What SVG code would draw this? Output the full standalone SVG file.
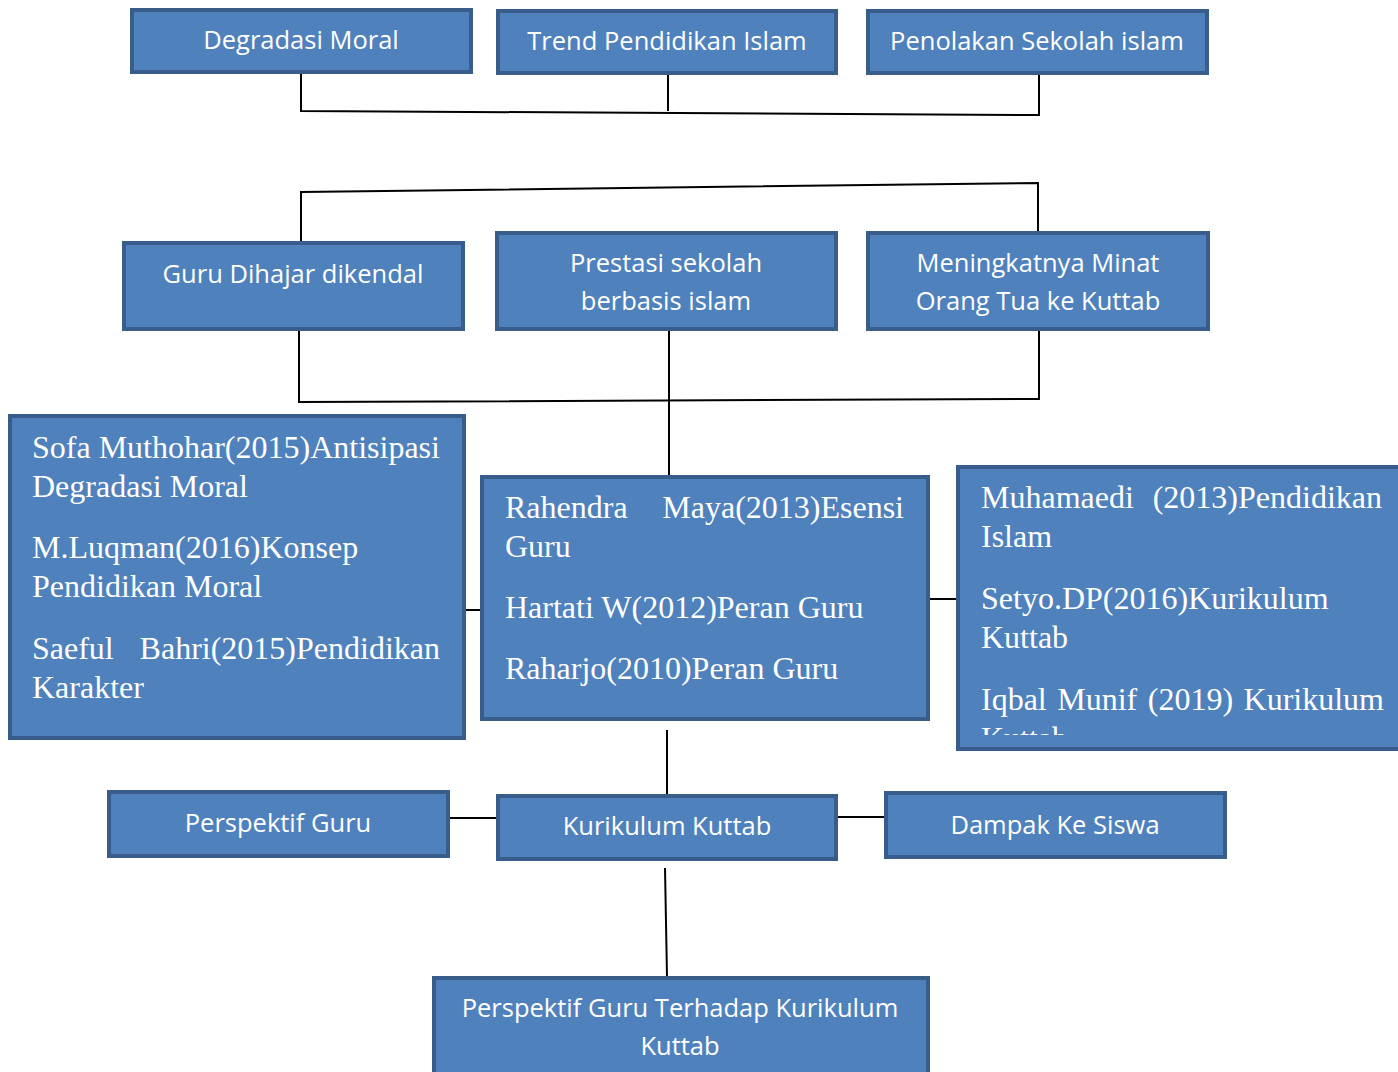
<svg xmlns="http://www.w3.org/2000/svg" width="1398" height="1072" viewBox="0 0 1398 1072">
<style>
.box{fill:#4F81BD;stroke:#385D8A;stroke-width:4}
.s{font-family:"Open Sans","Liberation Sans",sans-serif;font-size:25.5px;fill:#fff;text-anchor:middle}
.r{font-family:"Liberation Serif","Times New Roman",serif;font-size:32px;fill:#fff}
.e{text-anchor:end}
.c{fill:none;stroke:#000;stroke-width:2}
</style>
<defs>
<clipPath id="clipR"><rect x="960" y="468" width="438" height="267"/></clipPath>
</defs>
<rect width="1398" height="1072" fill="#fff"/>
<g id="connectors">
<polyline class="c" points="301,73 301,111 1039,115 1039,75"/>
<line class="c" x1="668" y1="74" x2="668" y2="111"/>
<polyline class="c" points="301,242 301,192 1038,183 1038,232"/>
<polyline class="c" points="299,330 299,402 1039,399 1039,330"/>
<line class="c" x1="669" y1="330" x2="669" y2="476"/>
<line class="c" x1="465" y1="610" x2="481" y2="610"/>
<line class="c" x1="929" y1="599" x2="957" y2="599"/>
<line class="c" x1="667" y1="730" x2="667" y2="795"/>
<line class="c" x1="449" y1="818" x2="497" y2="818"/>
<line class="c" x1="837" y1="817" x2="884" y2="817"/>
<line class="c" x1="665" y1="868" x2="667" y2="977"/>
</g>
<g id="n-degradasi"><rect class="box" x="132" y="10" width="339" height="62"/><text class="s" x="301" y="49">Degradasi Moral</text></g>
<g id="n-trend"><rect class="box" x="498" y="11" width="338" height="62"/><text class="s" x="667" y="50">Trend Pendidikan Islam</text></g>
<g id="n-penolakan"><rect class="box" x="868" y="11" width="339" height="62"/><text class="s" x="1037" y="50">Penolakan Sekolah islam</text></g>
<g id="n-guru"><rect class="box" x="124" y="243" width="339" height="86"/><text class="s" x="293" y="283">Guru Dihajar dikendal</text></g>
<g id="n-prestasi"><rect class="box" x="497" y="233" width="339" height="96"/><text class="s" x="666" y="272">Prestasi sekolah</text><text class="s" x="666" y="310">berbasis islam</text></g>
<g id="n-minat"><rect class="box" x="868" y="233" width="340" height="96"/><text class="s" x="1038" y="272">Meningkatnya Minat</text><text class="s" x="1038" y="310">Orang Tua ke Kuttab</text></g>
<g id="n-left"><rect class="box" x="10" y="416" width="454" height="322"/>
<text class="r" x="32" y="458">Sofa Muthohar(2015)Antisipasi</text>
<text class="r" x="32" y="497">Degradasi Moral</text>
<text class="r" x="32" y="558">M.Luqman(2016)Konsep</text>
<text class="r" x="32" y="597">Pendidikan Moral</text>
<text class="r" x="32" y="659">Saeful</text><text class="r e" x="440" y="659">Bahri(2015)Pendidikan</text>
<text class="r" x="32" y="698">Karakter</text>
</g>
<g id="n-center"><rect class="box" x="482" y="477" width="446" height="242"/>
<text class="r" x="505" y="518">Rahendra</text><text class="r e" x="904" y="518">Maya(2013)Esensi</text>
<text class="r" x="505" y="557">Guru</text>
<text class="r" x="505" y="618">Hartati W(2012)Peran Guru</text>
<text class="r" x="505" y="679">Raharjo(2010)Peran Guru</text>
</g>
<g id="n-right"><rect class="box" x="958" y="467" width="444" height="282"/>
<g clip-path="url(#clipR)">
<text class="r" x="981" y="508">Muhamaedi</text><text class="r e" x="1382" y="508">(2013)Pendidikan</text>
<text class="r" x="981" y="547">Islam</text>
<text class="r" x="981" y="609">Setyo.DP(2016)Kurikulum</text>
<text class="r" x="981" y="648">Kuttab</text>
<text class="r" x="981" y="710" word-spacing="2.5">Iqbal Munif (2019) Kurikulum</text>
<text class="r" x="981" y="749">Kuttab</text>
</g>
</g>
<g id="n-perspektif"><rect class="box" x="109" y="792" width="339" height="64"/><text class="s" x="278" y="832">Perspektif Guru</text></g>
<g id="n-kurikulum"><rect class="box" x="498" y="796" width="338" height="63"/><text class="s" x="667" y="835">Kurikulum Kuttab</text></g>
<g id="n-dampak"><rect class="box" x="886" y="793" width="339" height="64"/><text class="s" x="1055" y="834">Dampak Ke Siswa</text></g>
<g id="n-bottom"><rect class="box" x="434" y="978" width="494" height="100"/><text class="s" x="680" y="1017">Perspektif Guru Terhadap Kurikulum</text><text class="s" x="680" y="1055">Kuttab</text></g>
</svg>
